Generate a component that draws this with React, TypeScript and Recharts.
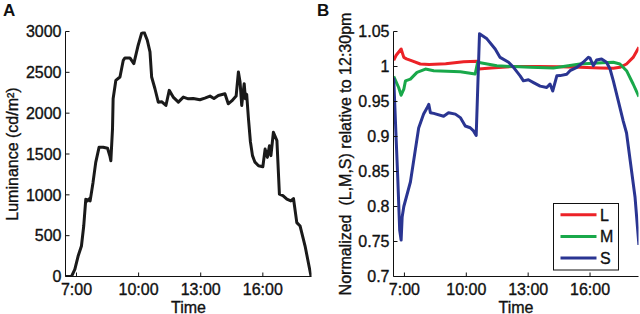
import React from 'react';
import { LineChart, Line, XAxis, YAxis, Legend } from 'recharts';

const FONT = '"Liberation Sans", Arial, Helvetica, sans-serif';
const INK = '#111';

const timeTicks = [7, 10, 13, 16];
const timeDomain = [6.47, 18.35];

// panel A - luminance
const lumTicks = [0, 500, 1000, 1500, 2000, 2500, 3000];
const lumHours = [6.48, 6.76, 6.92, 7.08, 7.24, 7.35, 7.45, 7.53, 7.61, 7.66, 7.8, 7.93, 8.09, 8.29, 8.5, 8.61, 8.66, 8.74, 8.77, 8.9,
  9.1, 9.26, 9.34, 9.58, 9.77, 9.98, 10.14, 10.26, 10.42, 10.55, 10.63, 10.79, 10.95, 11.11, 11.32, 11.48, 11.67, 11.92, 12.16, 12.4,
  12.64, 12.96, 13.2, 13.45, 13.64, 13.85, 14.17, 14.33, 14.5, 14.71, 14.82, 14.9, 14.98, 15.06, 15.1, 15.16, 15.22, 15.3, 15.4, 15.5,
  15.62, 15.79, 16.0, 16.11, 16.22, 16.32, 16.39, 16.51, 16.68, 16.8, 16.97, 17.16, 17.35, 17.48, 17.64, 17.8, 18.04, 18.33];
const lumValues = [0, 0, 86, 250, 373, 618, 947, 926, 950, 926, 1152, 1398, 1582, 1582, 1570, 1479, 1418, 1807, 2176, 2401,
  2443, 2647, 2676, 2676, 2607, 2832, 2975, 2996, 2893, 2750, 2443, 2299, 2135, 2140, 2094, 2279, 2197, 2135, 2197, 2176,
  2180, 2164, 2185, 2209, 2180, 2217, 2238, 2115, 2150, 2209, 2504, 2381, 2094, 2279, 2361, 2176, 2230, 1950, 1650, 1480,
  1400, 1356, 1344, 1560, 1459, 1600, 1480, 1766, 1664, 1008, 990, 947, 926, 955, 660, 618, 373, 0];

// panel B - normalized cone responses
const ratioTicks = [0.7, 0.75, 0.8, 0.85, 0.9, 0.95, 1, 1.05];
const lHours = [6.48, 6.6, 6.84, 6.97, 7.1, 7.37, 7.77, 8.2, 9.0, 9.87, 10.52, 10.6, 11.2, 12.29, 13.5, 14.5, 15.51, 16.5, 17.13, 17.45, 17.77, 18.09, 18.37];
const lValues = [1.009, 1.016, 1.025, 1.013, 1.011, 1.008, 1.0036, 1.003, 1.004, 1.0068, 1.0074, 0.9964, 0.998, 1.0, 1.0, 0.9995, 0.9988, 0.998, 0.9975, 0.9988, 1.0036, 1.013, 1.0275];
const mHours = [6.48, 6.72, 6.84, 6.97, 7.05, 7.29, 7.61, 8.02, 8.42, 9.71, 10.43, 10.55, 11.48, 13.1, 14.22, 15.51, 16.6, 17.13, 17.45, 17.77, 18.09, 18.37];
const mValues = [0.9858, 0.97, 0.959, 0.9676, 0.9795, 0.982, 0.9916, 0.9964, 0.994, 0.9925, 0.9892, 1.006, 1.001, 0.9988, 0.998, 1.0036, 1.0055, 1.006, 1.0036, 0.994, 0.975, 0.957];
const sHours = [6.48, 6.58, 6.68, 6.77, 6.84, 6.89, 6.97, 7.29, 7.69, 7.93, 8.1, 8.18, 8.26, 8.42, 8.9, 9.14, 9.47, 9.71, 9.95, 10.19,
  10.35, 10.48, 10.64, 11.0, 11.4, 11.64, 12.05, 12.29, 12.61, 12.77, 13.01, 13.26, 13.58, 13.9, 14.06, 14.19, 14.39, 14.55, 14.87, 15.03,
  15.36, 15.67, 15.92, 16.0, 16.16, 16.32, 16.56, 16.8, 16.97, 17.13, 17.37, 17.61, 17.77, 17.95, 18.18, 18.37];
const sValues = [0.984, 0.91, 0.838, 0.766, 0.752, 0.785, 0.8, 0.835, 0.912, 0.932, 0.941, 0.946, 0.934, 0.933, 0.929, 0.934, 0.932, 0.927, 0.915, 0.9125,
  0.908, 0.9015, 1.0467, 1.0395, 1.025, 1.013, 1.006, 0.9988, 0.9867, 0.9795, 0.981, 0.977, 0.972, 0.97, 0.975, 0.965, 0.9867, 0.987, 0.989, 0.994,
  0.9988, 1.006, 1.0132, 1.012, 1.0011, 1.0093, 1.0107, 1.006, 0.9964, 0.9795, 0.951, 0.922, 0.905, 0.865, 0.814, 0.745];

const zip = (hs: number[], vs: number[]) => hs.map((h, i) => ({ h, v: vs[i] }));
const lumData = zip(lumHours, lumValues);
const lData = zip(lHours, lValues);
const mData = zip(mHours, mValues);
const sData = zip(sHours, sValues);

// a hairline stroke thickens the glyphs a little, like the scanned figure
const txt = { fontSize: 16, fontFamily: FONT, fill: INK, stroke: INK, strokeWidth: 0.35 };

const BottomTick = ({ x, y, payload }: any) => (
  <g>
    <line x1={x} x2={x} y1={y} y2={y - 4} stroke={INK} />
    <text x={x} y={y + 18.5} textAnchor="middle" {...txt}>{`${payload.value}:00`}</text>
  </g>
);
const TopTick = ({ x, y }: any) => <line x1={x} x2={x} y1={y} y2={y + 4} stroke={INK} />;
const LeftTick = ({ x, y, payload }: any) => (
  <g>
    <line x1={x} x2={x + 4} y1={y} y2={y} stroke={INK} />
    <text x={x - 4} y={y} dy="0.36em" textAnchor="end" {...txt}>{String(payload.value)}</text>
  </g>
);
const RightTick = ({ x, y }: any) => <line x1={x} x2={x - 4} y1={y} y2={y} stroke={INK} />;

const LegendBox = ({ payload }: any) => (
  <svg width={67} height={68} style={{ display: 'block' }}>
    <rect x={0.5} y={0.5} width={65} height={66.5} fill="#fff" stroke={INK} />
    {(payload || []).map((p: any, i: number) => (
      <g key={p.value}>
        <line x1={7.5} x2={43.5} y1={11.7 + i * 21.7} y2={11.7 + i * 21.7} stroke={p.color} strokeWidth={3} />
        <text x={47} y={17.5 + i * 21.7} {...txt}>{p.value}</text>
      </g>
    ))}
  </svg>
);

const axisLine = { stroke: INK, strokeWidth: 1 };

const Panel = ({ letter, left }: { letter: string; left: number }) => (
  <div style={{ position: 'absolute', left, top: 2, fontFamily: FONT, fontWeight: 'bold', fontSize: 17, lineHeight: '17px', color: INK }}>
    {letter}
  </div>
);

export default function App() {
  return (
    <div style={{ position: 'absolute', left: 0, top: 0, width: 640, height: 314, background: '#fff', fontFamily: FONT }}>
      <div style={{ position: 'absolute', left: 0, top: 0 }}>
        <LineChart width={320} height={314} data={lumData} margin={{ top: 31.5, right: 8.5, bottom: 0, left: 0 }}>
          <XAxis dataKey="h" type="number" domain={timeDomain} ticks={timeTicks} interval={0} allowDataOverflow
            height={37.5} tickSize={0} tickMargin={0} tickLine={false} axisLine={axisLine} tick={BottomTick}
            label={{ value: 'Time', position: 'insideBottom', offset: 1.5, style: txt }} />
          <XAxis xAxisId="top" orientation="top" dataKey="h" type="number" domain={timeDomain} ticks={timeTicks} interval={0}
            allowDataOverflow height={0} tickSize={0} tickMargin={0} tickLine={false} axisLine={axisLine} tick={TopTick} />
          <YAxis type="number" domain={[0, 3000]} ticks={lumTicks} interval={0} allowDataOverflow width={65.5}
            tickSize={0} tickMargin={0} tickLine={false} axisLine={axisLine} tick={LeftTick}
            label={{ value: 'Luminance (cd/m\u00B2)', angle: -90, position: 'insideLeft', offset: 12, style: { ...txt, textAnchor: 'middle' } }} />
          <YAxis yAxisId="right" orientation="right" type="number" domain={[0, 3000]} ticks={lumTicks} interval={0}
            allowDataOverflow width={0} tickSize={0} tickMargin={0} tickLine={false} axisLine={axisLine} tick={RightTick} />
          <Line dataKey="v" stroke="#1a1a1a" strokeWidth={3} dot={false} activeDot={false} strokeLinejoin="round"
            isAnimationActive={false} />
        </LineChart>
      </div>
      <div style={{ position: 'absolute', left: 320, top: 0 }}>
        <LineChart width={320} height={314} margin={{ top: 31.5, right: 1.5, bottom: 0, left: 0 }}>
          <XAxis dataKey="h" type="number" domain={timeDomain} ticks={timeTicks} interval={0} allowDataOverflow
            height={37.5} tickSize={0} tickMargin={0} tickLine={false} axisLine={axisLine} tick={BottomTick}
            label={{ value: 'Time', position: 'insideBottom', offset: 1.5, style: txt }} />
          <XAxis xAxisId="top" orientation="top" dataKey="h" type="number" domain={timeDomain} ticks={timeTicks} interval={0}
            allowDataOverflow height={0} tickSize={0} tickMargin={0} tickLine={false} axisLine={axisLine} tick={TopTick} />
          <YAxis type="number" domain={[0.7, 1.05]} ticks={ratioTicks} interval={0} allowDataOverflow width={73.5}
            tickSize={0} tickMargin={0} tickLine={false} axisLine={axisLine} tick={LeftTick}
            label={{ value: 'Normalized\u00A0 (L,M,S) relative to 12:30pm', angle: -90, position: 'insideLeft', offset: 25, style: { ...txt, textAnchor: 'middle' } }} />
          <YAxis yAxisId="right" orientation="right" type="number" domain={[0.7, 1.05]} ticks={ratioTicks} interval={0}
            allowDataOverflow width={0} tickSize={0} tickMargin={0} tickLine={false} axisLine={axisLine} tick={RightTick} />
          <Line data={lData} dataKey="v" name="L" stroke="#ec2227" strokeWidth={3} dot={false} activeDot={false}
            strokeLinejoin="round" isAnimationActive={false} />
          <Line data={mData} dataKey="v" name="M" stroke="#19a84a" strokeWidth={3} dot={false} activeDot={false}
            strokeLinejoin="round" isAnimationActive={false} />
          <Line data={sData} dataKey="v" name="S" stroke="#2a3592" strokeWidth={3} dot={false} activeDot={false}
            strokeLinejoin="round" isAnimationActive={false} />
          <Legend content={LegendBox} layout="vertical" align="center" verticalAlign="middle"
            wrapperStyle={{ left: 233, top: 203, width: 67, height: 68 }} />
        </LineChart>
      </div>
      <Panel letter="A" left={3} />
      <Panel letter="B" left={317} />
    </div>
  );
}
